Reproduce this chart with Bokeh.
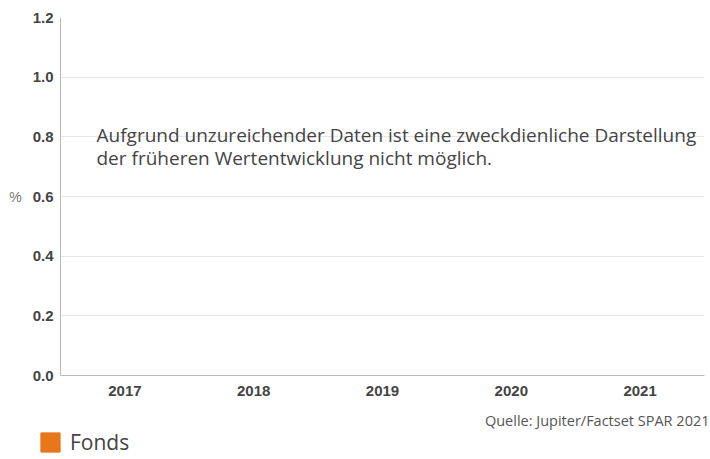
from bokeh.plotting import figure
from bokeh.models import (FactorRange, Range1d, FixedTicker, NumeralTickFormatter,
                          Label, Legend, LegendItem, ColumnDataSource)
from bokeh.embed import file_html
from bokeh.resources import INLINE

years = ["2017", "2018", "2019", "2020", "2021"]
fund_values = []          # no data available
fund_years = []
y_ticks = [0.0, 0.2, 0.4, 0.6, 0.8, 1.0, 1.2]
series_name = "Fonds"
message = ("Aufgrund unzureichender Daten ist eine zweckdienliche Darstellung\n"
           "der früheren Wertentwicklung nicht möglich.")
source_note = "Quelle: Jupiter/Factset SPAR 2021"
fund_color = "#E8761A"

p = figure(width=710, height=400, x_range=FactorRange(*years),
           y_range=Range1d(0, 1.2), output_backend="svg", toolbar_location=None,
           min_border_left=60, min_border_top=17, min_border_bottom=25,
           min_border_right=6)
p.outline_line_color = None

src = ColumnDataSource(dict(x=fund_years, top=fund_values))
p.vbar(x="x", top="top", width=0.6, source=src, color=fund_color)

# axes
p.yaxis.ticker = FixedTicker(ticks=y_ticks)
p.yaxis.formatter = NumeralTickFormatter(format="0.0")
for ax in (p.xaxis[0], p.yaxis[0]):
    ax.axis_line_color = "#bbbbbb"
    ax.major_tick_line_color = None
    ax.minor_tick_line_color = None
    ax.major_label_text_font = "Liberation Sans"
    ax.major_label_text_font_style = "bold"
    ax.major_label_text_font_size = "15px"
    ax.major_label_text_color = "#444444"
p.xaxis.major_label_standoff = 4
p.yaxis.major_label_standoff = 1
p.yaxis.axis_label = "%"
p.yaxis.axis_label_orientation = "horizontal"
p.yaxis.axis_label_text_font = "Liberation Sans"
p.yaxis.axis_label_text_font_style = "normal"
p.yaxis.axis_label_text_font_size = "14px"
p.yaxis.axis_label_text_color = "#777777"
p.yaxis.axis_label_standoff = 8

p.xgrid.grid_line_color = None
p.ygrid.grid_line_color = "#e6e6e6"

msg = Label(x=36, y=254, x_units="screen", y_units="screen", text=message,
            text_font="Open Sans", text_font_size="19px", text_color="#444444",
            text_baseline="top", text_line_height=0.9)
p.add_layout(msg)

# footer strip: source note + legend (separate root, not frame-aligned)
lg = figure(width=710, height=59, x_range=Range1d(0, 1), y_range=Range1d(0, 1),
            x_axis_type=None, y_axis_type=None, output_backend="svg",
            toolbar_location=None, min_border=0)
lg.outline_line_color = None
lg.grid.visible = False

note = Label(x=709, y=39, x_units="screen", y_units="screen", text=source_note,
             text_font="Open Sans", text_font_size="14.5px", text_color="#555555",
             text_align="right", text_baseline="alphabetic")
lg.add_layout(note)

# zero-height proxy bar outside the view, only used for the legend swatch
r = lg.vbar(x=[-5], top=[0], width=0.5, color=fund_color)
legend = Legend(items=[LegendItem(label=series_name, renderers=[r])],
                location=(38, 3), border_line_color=None,
                background_fill_alpha=0, label_text_font="Open Sans",
                label_text_font_size="21px", label_text_color="#444444",
                glyph_width=24, glyph_height=24, padding=0, margin=0,
                label_standoff=8, label_height=24)
lg.add_layout(legend)

open("out.html", "w").write(file_html([p, lg], INLINE))
